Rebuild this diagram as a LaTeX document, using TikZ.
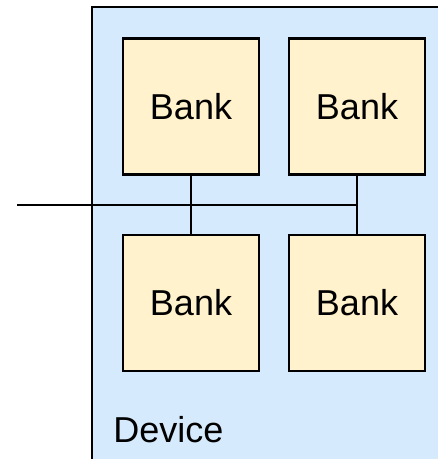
\documentclass[tikz,border=0pt]{standalone}
\usepackage{fontspec}
\setmainfont{Liberation Sans}
\usepackage{tikz}
\usetikzlibrary{positioning}

\definecolor{devicefill}{HTML}{D5EAFD}
\definecolor{bankfill}{HTML}{FFF2CC}

\tikzset{
  bank/.style={draw, line width=1.4pt, fill=bankfill, minimum size=2.72cm,
    inner sep=0pt, font=\fontsize{20.5}{24}\selectfont},
  wire/.style={line width=1.15pt}
}

\begin{document}
\begin{tikzpicture}
    \useasboundingbox (0, 0) rectangle (8.76, 9.18);

    % the device, running off the right and bottom edges
    \fill[devicefill] (1.84, -0.3) rectangle (9.2, 9.034);
    \draw[line width=1.15pt] (9.2, 9.034) -- (1.84, 9.034) -- (1.84, -0.3);
    \node[anchor=base west, inner sep=0pt, font=\fontsize{20.5}{24}\selectfont] (dev) at (2.26, 0.32) {Device};

    \node[bank] (b1) at (3.82, 7.054) {Bank};
    \node[bank] (b2) at (7.14, 7.054) {Bank};
    \node[bank] (b3) at (3.82, 3.12)  {Bank};
    \node[bank] (b4) at (7.14, 3.12)  {Bank};

    % shared bus
    \coordinate (bus) at (0.34, 5.086);
    \coordinate (tap) at (b2.south |- bus);

    \draw[wire] (b1) -- (b3);
    \draw[wire] (b2) -- (b4);
    \draw[wire] (bus) -- (tap);

  \end{tikzpicture}
\end{document}
